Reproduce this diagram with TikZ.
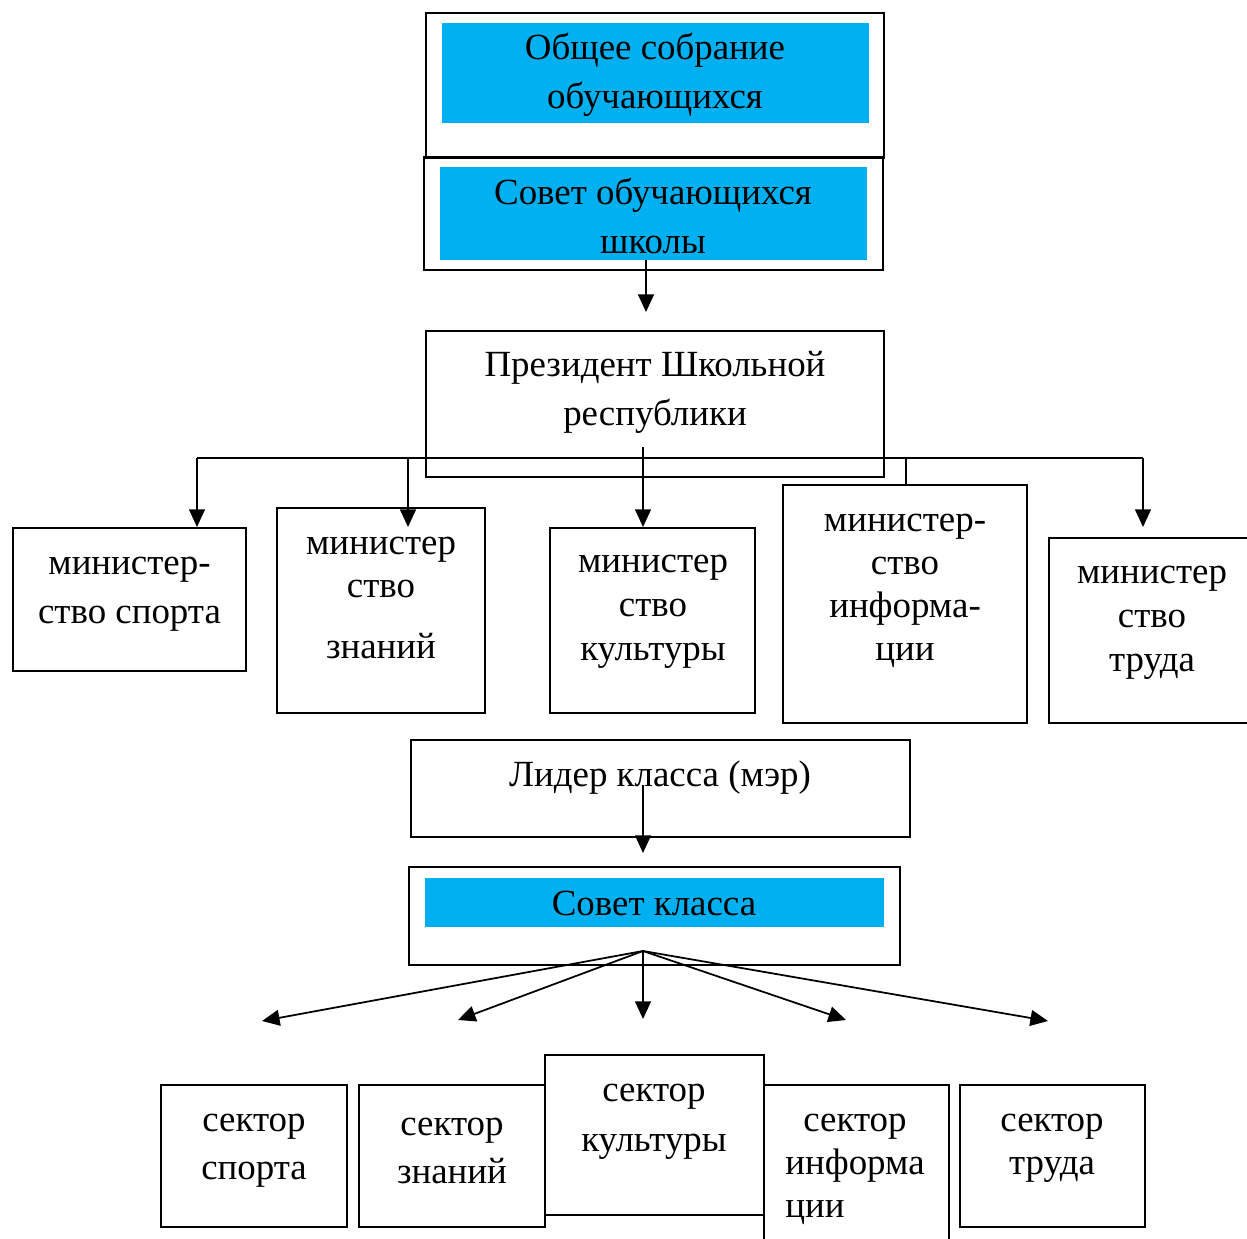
\documentclass[tikz,border=0pt]{standalone}
\usepackage{fontspec}
\setmainfont{Liberation Serif}
\usetikzlibrary{arrows.meta,positioning}
\definecolor{councilblue}{RGB}{0,176,240}

\begin{document}
\begin{tikzpicture}[
    x=0.02cm, y=-0.02cm,
    orgbox/.style={draw, line width=1pt, inner sep=0pt},
    bluefill/.style={fill=councilblue, inner sep=0pt},
    lbl/.style={font=\fontsize{21}{28}\selectfont, align=center, inner sep=0pt},
    tight/.style={font=\fontsize{21}{24.5}\selectfont},
    arrow/.style={-{Triangle[length=10pt,width=9pt]}, line width=1pt}
]
\useasboundingbox (0,0) rectangle (1247,1239);

% School level
\node[orgbox, minimum width=9.16cm, minimum height=2.9cm] (meeting) at (655,85.5) {};
\node[bluefill, minimum width=8.54cm, minimum height=2.0cm] (meetingfill) at (655.5,73) {};
\node[lbl] (meetingtxt) at (655,75) {Общее собрание\\обучающихся};

\node[orgbox, minimum width=9.18cm, minimum height=2.26cm] (council) at (653.5,213.5) {};
\node[bluefill, minimum width=8.54cm, minimum height=1.86cm] (councilfill) at (653.5,213.5) {};
\node[lbl] (counciltxt) at (653,216) {Совет обучающихся\\школы};

\node[orgbox, minimum width=9.16cm, minimum height=2.92cm] (pres) at (655,404) {};
\node[lbl] (prestxt) at (655,392) {Президент Школьной\\республики};

% Ministries
\node[orgbox, minimum width=4.66cm, minimum height=2.86cm] (msport) at (129.5,599.5) {};
\node[lbl] (msporttxt) at (129.5,594) {министер-\\ство спорта};

\node[orgbox, minimum width=4.16cm, minimum height=4.10cm] (mknow) at (381,610.5) {};
\node[lbl, tight] (mknowtxt) at (381,598) {министер\\ство\\[10pt]знаний};

\node[orgbox, minimum width=4.10cm, minimum height=3.70cm] (mcult) at (652.5,620.5) {};
\node[lbl, font=\fontsize{21}{25}\selectfont] (mculttxt) at (653,612) {министер\\ство\\культуры};

\node[orgbox, minimum width=4.88cm, minimum height=4.76cm] (minfo) at (905,604) {};
\node[lbl, tight] (minfotxt) at (905,590.5) {министер-\\ство\\информа-\\ции};

\node[orgbox, minimum width=3.98cm, minimum height=3.70cm] (mwork) at (1148.5,630.5) {};
\node[lbl, font=\fontsize{21}{25}\selectfont] (mworktxt) at (1152,623) {министер\\ство\\труда};

% Bus from the president
\coordinate (councildown) at (646,260);
\coordinate (tippres) at (646,312);
\coordinate (busL) at (197,458);
\coordinate (busR) at (1143,458);
\coordinate (presdown) at (643,447);
\coordinate (tipsport) at (197,527);
\coordinate (busknow) at (408,458);
\coordinate (tipknow) at (408,527);
\coordinate (tipcult) at (643,527);
\coordinate (businfo) at (906,458);
\coordinate (tipwork) at (1143,527);

\draw[arrow] (councildown) -- (tippres);
\draw[line width=1pt] (busL) -- (busR);
\draw[arrow] (busL) -- (tipsport);
\draw[arrow] (busknow) -- (tipknow);
\draw[arrow] (presdown) -- (tipcult);
\draw[line width=1pt] (businfo) -- (minfo.north -| businfo);
\draw[arrow] (busR) -- (tipwork);

% Class level
\node[orgbox, minimum width=9.98cm, minimum height=1.94cm] (leader) at (660.5,788.5) {};
\node[lbl] (leadertxt) at (660,778) {Лидер класса (мэр)};

\node[orgbox, minimum width=9.82cm, minimum height=1.96cm] (classcouncil) at (654.5,916) {};
\node[bluefill, minimum width=9.18cm, minimum height=0.98cm] (classfill) at (654.5,902.5) {};
\node[lbl] (classtxt) at (654,903) {Совет класса};

\coordinate (leaderdown) at (643,785);
\coordinate (tipclass) at (643,853);
\draw[arrow] (leaderdown) -- (tipclass);

% Sectors
\node[orgbox, minimum width=3.72cm, minimum height=2.84cm] (ssport) at (254,1156) {};
\node[lbl, font=\fontsize{21}{27.5}\selectfont] (ssporttxt) at (254,1151) {сектор\\спорта};

\node[orgbox, minimum width=3.72cm, minimum height=2.84cm] (sknow) at (452,1156) {};
\node[lbl, font=\fontsize{21}{27.5}\selectfont] (sknowtxt) at (452,1151) {сектор\\знаний};

\node[orgbox, minimum width=4.38cm, minimum height=3.20cm] (scult) at (654.5,1135) {};
\node[lbl, font=\fontsize{21}{28.5}\selectfont] (sculttxt) at (654,1122) {сектор\\культуры};

\node[orgbox, minimum width=3.70cm, minimum height=3.40cm] (sinfo) at (856.5,1170) {};
\node[lbl, tight] (sinfotxt) at (855,1170) {сектор\\информа\\\makebox[0pt][l]{ции}\phantom{информа}};

\node[orgbox, minimum width=3.70cm, minimum height=2.84cm] (swork) at (1052.5,1156) {};
\node[lbl, tight] (sworktxt) at (1052,1148.5) {сектор\\труда};

% Fan to the sectors
\coordinate (fan) at (643,951);
\coordinate (tipA) at (262,1021);
\coordinate (tipB) at (458,1020);
\coordinate (tipC) at (643,1019);
\coordinate (tipD) at (846,1020);
\coordinate (tipE) at (1048,1021);
\draw[arrow] (fan) -- (tipA);
\draw[arrow] (fan) -- (tipB);
\draw[arrow] (fan) -- (tipC);
\draw[arrow] (fan) -- (tipD);
\draw[arrow] (fan) -- (tipE);

\end{tikzpicture}
\end{document}
